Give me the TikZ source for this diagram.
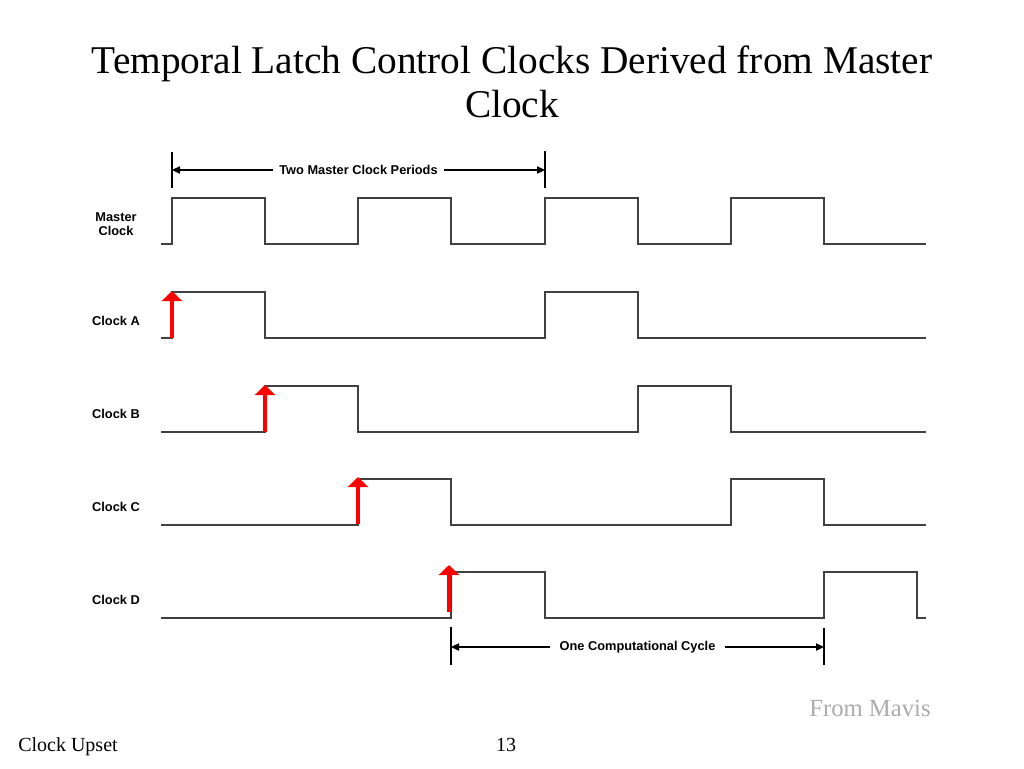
\documentclass[tikz,border=0pt]{standalone}
\usepackage{fontspec}
\setmainfont{Liberation Serif}
\newfontfamily\wavefont{Liberation Sans}
\usetikzlibrary{arrows.meta}
\begin{document}
\begin{tikzpicture}[x=0.75pt,y=-0.75pt,
		wave/.style={line width=1.1pt,black!75},
		lbl/.style={font=\wavefont\bfseries\fontsize{9.6}{10.5}\selectfont,align=center},
		redarrow/.style={red,line width=2.6pt,-{Triangle[width=15pt,length=7.5pt]}},
		dimline/.style={line width=0.8pt,{Triangle[width=5.5pt,length=6pt]}-{Triangle[width=5.5pt,length=6pt]}}]
	\useasboundingbox (0,0) rectangle (1024,768);
	\def\hi{46}
	% title and footer
	\node[font=\fontsize{29.5}{33}\selectfont,align=center] (title) at (512,82) {Temporal Latch Control Clocks Derived from Master\\Clock};
	\node[font=\fontsize{15}{18}\selectfont,anchor=base west,inner sep=0pt] (foot) at (18,751) {Clock Upset};
	\node[font=\fontsize{15}{18}\selectfont,anchor=base,inner sep=0pt] (page) at (506,751) {13};
	\node[font=\fontsize{18.5}{22}\selectfont,text=black!33,anchor=base,inner sep=0pt] (src) at (870,716) {From Mavis};
	% signal names
	\node[lbl] (mclk) at (116,224) {Master\\Clock};
	\foreach \n/\y in {a/321,b/414,c/507,d/600}
		\node[lbl] (clk\n) at (116,\y) {Clock \MakeUppercase{\n}};
	% waveforms
	\draw[wave] (161,244) -| (172,244-\hi) -| (265,244) -| (358,244-\hi) -| (451,244) -| (545,244-\hi) -| (638,244) -| (731,244-\hi) -| (824,244) -- (926,244);
	\draw[wave] (161,338) -| (172,338-\hi) -| (265,338) -| (545,338-\hi) -| (638,338) -- (926,338);
	\draw[wave] (161,432) -| (265,432-\hi) -| (358,432) -| (638,432-\hi) -| (731,432) -- (926,432);
	\draw[wave] (161,525) -| (358,525-\hi) -| (451,525) -| (731,525-\hi) -| (824,525) -- (926,525);
	\draw[wave] (161,618) -| (451,618-\hi) -| (545,618) -| (824,618-\hi) -| (917,618) -- (926,618);
	% latching edges
	\foreach \x/\y in {172/338,265/432,358/524,449/612}
		\draw[redarrow] (\x,\y) -- (\x,\y-\hi-1);
	% periods
	\coordinate (p1) at (172,170);
	\coordinate (p2) at (545,170);
	\coordinate (c1) at (451,647);
	\coordinate (c2) at (824,647);
	\draw[line width=0.8pt] (172,152) -- (172,188) (545,151) -- (545,188);
	\draw[line width=0.8pt] (451,627) -- (451,665) (824,628) -- (824,665);
	\draw[dimline] (p1) -- (p2) node[lbl,midway,fill=white,inner xsep=5pt] (twoper) {Two Master Clock Periods};
	\draw[dimline] (c1) -- (c2) node[lbl,midway,fill=white,inner xsep=7pt] (onecyc) {One Computational Cycle};
\end{tikzpicture}
\end{document}
